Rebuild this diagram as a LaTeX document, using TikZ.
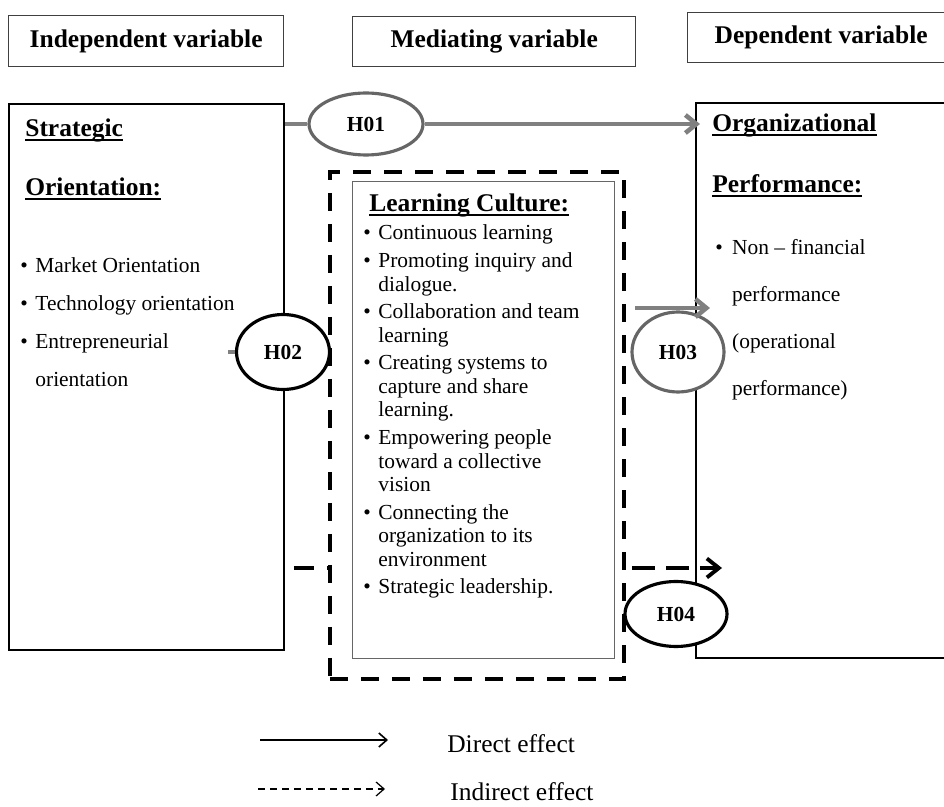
\documentclass[tikz,border=0pt]{standalone}
\usepackage{fontspec}
\setmainfont{Liberation Serif}
\usetikzlibrary{arrows.meta, shapes.geometric}

% underline placed close to the baseline
\newcommand{\titleline}[1]{\sbox0{#1}\rlap{\rule[-2.2pt]{\wd0}{0.9pt}}\usebox0}

\begin{document}
\begin{tikzpicture}[
        x=0.02cm, y=-0.02cm,
        header/.style={rectangle, draw=black!75, line width=0.8pt, anchor=north west, inner sep=0pt, font=\fontsize{14.5}{17}\selectfont\bfseries},
        varbox/.style={rectangle, draw=black, line width=1.1pt, anchor=north west, inner sep=0pt},
        content/.style={anchor=base west, inner sep=0pt},
        hyp/.style={ellipse, draw=black, fill=white, line width=1.8pt, inner sep=0pt, font=\fontsize{12.2}{14}\selectfont\bfseries},
        greyhyp/.style={hyp, draw=black!60},
        greyline/.style={draw=black!50, line width=2.6pt},
        direct/.style={greyline, -{Straight Barb[length=2.2mm, width=3.6mm]}},
        indirect/.style={draw=black, line width=2.2pt, dash pattern=on 0.4cm off 0.26cm},
        legend/.style={anchor=base west, inner sep=0pt, font=\fontsize{14.5}{17}\selectfont},
        legline/.style={draw=black, line width=0.9pt, -{Straight Barb[length=1.6mm, width=2.8mm]}},
    ]
        \useasboundingbox (0,0) rectangle (944,807);

        % Column headers
        \node[header, minimum width=5.5cm, minimum height=1.02cm] (indep) at (8,15) {Independent variable};
        \node[header, minimum width=5.66cm, minimum height=1.0cm] (medi) at (352,16) {Mediating variable};
        \node[header, minimum width=5.34cm, minimum height=1.0cm] (dep) at (687,12) {Dependent variable};

        % Variable boxes
        \node[varbox, minimum width=5.5cm, minimum height=10.92cm] (strat) at (8,103) {};
        \node[varbox, minimum width=5.88cm, minimum height=10.14cm, fill=white, line width=2.2pt, dash pattern=on 0.36cm off 0.26cm] (med) at (328,170) {};
        \node[varbox, minimum width=5.24cm, minimum height=9.54cm, fill=white, draw=black!60, line width=0.6pt] (lc) at (352,181) {};
        \node[varbox, minimum width=5.4cm, minimum height=11.1cm] (perf) at (695,102) {};

        % Box contents
        \node[content, font=\fontsize{14.5}{33.4}\selectfont\bfseries] (strattitle) at (25,137)
            {\begin{tabular}[t]{@{}l@{}}\titleline{Strategic}\\ \titleline{Orientation:}\end{tabular}};
        \node[content, font=\fontsize{12.2}{21.6}\selectfont] (stratlist) at (20,273)
            {\begin{tabular}[t]{@{}l@{\hspace{4.3pt}}l@{}}
                \textbullet & Market Orientation\\
                \textbullet & Technology orientation\\
                \textbullet & Entrepreneurial\\
                            & orientation
            \end{tabular}};

        \node[content, font=\fontsize{14.5}{17}\selectfont\bfseries] (lctitle) at (369,212) {\titleline{Learning Culture:}};
        \node[content, font=\fontsize{12.2}{13.4}\selectfont] (lclist) at (363,240)
            {\begin{tabular}[t]{@{}l@{\hspace{4.3pt}}l@{}}
                \textbullet & Continuous learning\\[2.3pt]
                \textbullet & Promoting inquiry and\\
                            & dialogue.\\[2.3pt]
                \textbullet & Collaboration and team\\
                            & learning\\[2.3pt]
                \textbullet & Creating systems to\\
                            & capture and share\\
                            & learning.\\[2.3pt]
                \textbullet & Empowering people\\
                            & toward a collective\\
                            & vision\\[2.3pt]
                \textbullet & Connecting the\\
                            & organization to its\\
                            & environment\\[2.3pt]
                \textbullet & Strategic leadership.
            \end{tabular}};

        \node[content, font=\fontsize{14.5}{34.6}\selectfont\bfseries] (perftitle) at (712,132)
            {\begin{tabular}[t]{@{}l@{}}\titleline{Organizational}\\ \titleline{Performance:}\end{tabular}};
        \node[content, font=\fontsize{12.2}{26.6}\selectfont] (perflist) at (715,255)
            {\begin{tabular}[t]{@{}l@{\hspace{5.3pt}}l@{}}
                \textbullet & Non \textendash{} financial\\
                            & performance\\
                            & (operational\\
                            & performance)
            \end{tabular}};

        % Hypotheses
        \node[greyhyp, minimum width=2.28cm, minimum height=1.24cm] (h01) at (366,124) {H01};
        \node[hyp, minimum width=1.86cm, minimum height=1.5cm] (h02) at (283,352) {H02};
        \node[greyhyp, minimum width=1.84cm, minimum height=1.6cm] (h03) at (678,352) {H03};
        \node[hyp, minimum width=2.04cm, minimum height=1.3cm] (h04) at (676,614) {H04};

        % Effects
        \coordinate (h2s) at (228,352);
        \coordinate (h3s) at (635,308);
        \coordinate (h4y) at (0,568);
        \coordinate (h4e) at (722,568);
        \draw[greyline] (strat.east |- h01) -- (h01);
        \draw[direct, shorten >=-0.1cm] (h01) -- (perf.west |- h01);
        \draw[greyline] (h2s) -- (h02);
        \draw[direct, shorten >=-0.3cm] (h3s) -- (perf.west |- h3s);
        \draw[indirect, dash phase=0.48cm] (strat.east |- h4y) -- (med.west |- h4y);
        \draw[indirect, dash pattern=on 0.46cm off 0.22cm, dash phase=0.56cm,
              -{Straight Barb[length=2.4mm, width=3.8mm]}] (med.east |- h4y) -- (h4e);

        % Legend
        \node[legend] (dirtext) at (447,752) {Direct effect};
        \node[legend] (indtext) at (450,800) {Indirect effect};
        \draw[legline] ([shift={(-187,-12)}]dirtext.base west) -- ([shift={(-59,-12)}]dirtext.base west);
        \draw[legline, line width=0.7pt, dash pattern=on 0.14cm off 0.1cm] ([shift={(-192,-11)}]indtext.base west) -- ([shift={(-65,-11)}]indtext.base west);
    \end{tikzpicture}
\end{document}
